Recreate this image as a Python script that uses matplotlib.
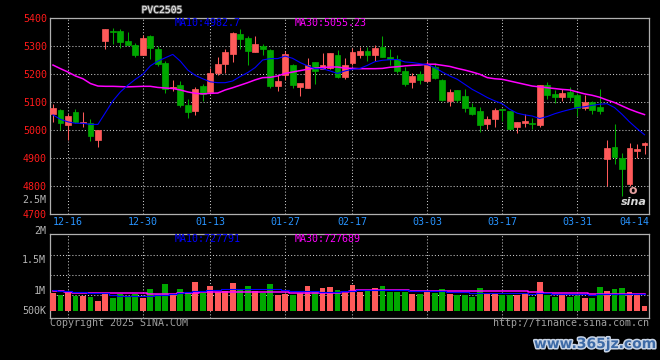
import matplotlib
matplotlib.use("Agg")
import matplotlib.pyplot as plt
import matplotlib.patheffects as pe

############################### DATA #####################################
# Values (one entry per trading day)
title = "PVC2505"

opens = [5056, 5072, 5018, 5064, 5024, 5026, 4964, 5318, 5352, 5354,
         5318, 5302, 5268, 5336, 5291, 5238, 5150, 5160, 5088, 5068,
         5157, 5134, 5205, 5235, 5273, 5342, 5329, 5280, 5300, 5286,
         5157, 5198, 5231, 5155, 5151, 5243, 5219, 5223, 5267, 5191,
         5241, 5268, 5282, 5268, 5296, 5261, 5255, 5211, 5170, 5199,
         5175, 5226, 5179, 5104, 5143, 5122, 5082, 5068, 5023, 5041,
         5074, 5068, 5009, 5026, 5026, 5017, 5160, 5130, 5118, 5137,
         5124, 5080, 5100, 5083, 4898, 4940, 4901, 4806, 4925, 4945]
highs = [5092, 5074, 5056, 5074, 5064, 5038, 5000, 5362, 5364, 5360,
         5350, 5312, 5338, 5339, 5300, 5246, 5179, 5174, 5112, 5155,
         5163, 5223, 5259, 5288, 5350, 5360, 5335, 5336, 5306, 5288,
         5195, 5283, 5237, 5169, 5258, 5243, 5276, 5276, 5286, 5258,
         5294, 5298, 5298, 5302, 5336, 5291, 5267, 5226, 5202, 5211,
         5246, 5240, 5181, 5148, 5143, 5145, 5098, 5083, 5050, 5078,
         5076, 5068, 5029, 5056, 5044, 5160, 5171, 5143, 5148, 5155,
         5131, 5124, 5104, 5145, 4964, 5020, 4919, 4955, 4949, 4957]
lows = [5029, 5000, 4964, 5024, 5012, 4961, 4941, 5288, 5307, 5294,
        5302, 5262, 5268, 5255, 5229, 5133, 5139, 5083, 5044, 5054,
        5104, 5128, 5195, 5205, 5244, 5291, 5231, 5277, 5267, 5151,
        5140, 5177, 5151, 5122, 5151, 5163, 5217, 5217, 5184, 5181,
        5231, 5258, 5246, 5246, 5262, 5231, 5205, 5157, 5150, 5163,
        5171, 5183, 5104, 5086, 5100, 5064, 5053, 4994, 5005, 5012,
        5032, 5003, 4991, 5012, 5003, 5012, 5112, 5098, 5104, 5104,
        5050, 5072, 5056, 5056, 4800, 4878, 4765, 4800, 4901, 4913]
closes = [5077, 5024, 5050, 5029, 5029, 4979, 5000, 5362, 5350, 5316,
          5302, 5268, 5329, 5294, 5237, 5148, 5152, 5088, 5066, 5148,
          5127, 5205, 5235, 5279, 5348, 5326, 5282, 5306, 5288, 5157,
          5175, 5270, 5162, 5167, 5231, 5211, 5231, 5276, 5191, 5231,
          5279, 5282, 5268, 5293, 5262, 5252, 5211, 5163, 5193, 5179,
          5231, 5187, 5107, 5136, 5107, 5080, 5058, 5019, 5041, 5072,
          5071, 5005, 5029, 5032, 5020, 5160, 5125, 5118, 5133, 5119,
          5078, 5100, 5072, 5068, 4934, 4905, 4862, 4937, 4933, 4952]

ma10 = [5054, 5038, 5029, 5024, 5024, 5020, 5020, 5062, 5104, 5136,
        5160, 5181, 5199, 5229, 5246, 5258, 5270, 5246, 5214, 5195,
        5183, 5172, 5169, 5169, 5175, 5191, 5205, 5223, 5250, 5255,
        5255, 5264, 5256, 5241, 5229, 5219, 5219, 5211, 5202, 5211,
        5217, 5220, 5231, 5244, 5249, 5251, 5252, 5243, 5241, 5237,
        5233, 5223, 5207, 5193, 5181, 5163, 5145, 5131, 5116, 5104,
        5094, 5074, 5060, 5054, 5050, 5041, 5048, 5058, 5066, 5073,
        5080, 5083, 5088, 5092, 5094, 5080, 5056, 5029, 5005, 4983]
ma30 = [5232, 5219, 5207, 5193, 5183, 5166, 5157, 5156, 5156, 5155,
        5154, 5155, 5156, 5156, 5152, 5150, 5148, 5143, 5136, 5131,
        5129, 5131, 5132, 5143, 5151, 5160, 5169, 5179, 5187, 5188,
        5193, 5202, 5207, 5212, 5217, 5221, 5223, 5225, 5225, 5221,
        5220, 5219, 5219, 5219, 5220, 5224, 5226, 5229, 5231, 5232,
        5235, 5235, 5231, 5227, 5220, 5214, 5207, 5199, 5187, 5183,
        5181, 5175, 5169, 5163, 5157, 5154, 5151, 5148, 5145, 5143,
        5136, 5129, 5124, 5117, 5107, 5098, 5086, 5074, 5064, 5055]

volumes = [785000, 685000, 828000, 656000, 642000, 585000, 428000, 714000, 571000, 742000,
           585000, 728000, 571000, 942000, 742000, 1156000, 742000, 942000, 813000, 1241000,
           785000, 1070000, 813000, 842000, 1199000, 928000, 1070000, 856000, 785000, 1156000,
           699000, 728000, 671000, 785000, 1070000, 856000, 985000, 1027000, 899000, 785000,
           1113000, 813000, 870000, 985000, 1070000, 813000, 813000, 813000, 728000, 728000,
           870000, 756000, 942000, 728000, 671000, 699000, 599000, 985000, 728000, 785000,
           699000, 671000, 699000, 728000, 614000, 1241000, 699000, 614000, 671000, 614000,
           642000, 571000, 571000, 1027000, 856000, 942000, 985000, 813000, 671000, 214000]
vol_ma10 = [885000, 870000, 842000, 813000, 813000, 785000, 771000, 771000, 671000, 642000,
            628000, 628000, 642000, 642000, 671000, 699000, 728000, 756000, 813000, 842000,
            870000, 899000, 913000, 928000, 942000, 942000, 942000, 942000, 942000, 942000,
            928000, 913000, 870000, 856000, 842000, 842000, 828000, 813000, 813000, 842000,
            870000, 885000, 885000, 885000, 885000, 885000, 885000, 885000, 870000, 856000,
            842000, 842000, 842000, 813000, 813000, 799000, 785000, 785000, 785000, 785000,
            785000, 771000, 771000, 756000, 742000, 756000, 756000, 742000, 742000, 742000,
            728000, 714000, 699000, 714000, 728000, 742000, 742000, 742000, 742000, 728000]
vol_ma30 = [842000, 842000, 813000, 785000, 785000, 785000, 785000, 785000, 785000, 785000,
            785000, 785000, 785000, 742000, 728000, 728000, 742000, 756000, 771000, 785000,
            799000, 813000, 813000, 813000, 813000, 813000, 813000, 813000, 813000, 813000,
            813000, 799000, 785000, 785000, 785000, 785000, 785000, 785000, 785000, 813000,
            870000, 885000, 885000, 885000, 885000, 885000, 885000, 885000, 870000, 856000,
            842000, 842000, 842000, 842000, 842000, 842000, 842000, 842000, 842000, 842000,
            842000, 842000, 842000, 842000, 813000, 799000, 785000, 785000, 785000, 785000,
            771000, 756000, 742000, 728000, 728000, 728000, 714000, 714000, 714000, 728000]

date_labels = ["12-16", "12-30", "01-13", "01-27", "02-17", "03-03", "03-17", "03-31"]
date_index = [2, 12, 21, 31, 40, 50, 60, 70]
last_date = "04-14"
price_ticks = [4700, 4800, 4900, 5000, 5100, 5200, 5300, 5400]
vol_labels = ["2.5M", "2M", "1.5M", "1M", "500K"]
price_ma_text = ["MA10:4982.7", "MA30:5055.23"]
vol_ma_text = ["MA10:727791", "MA30:727689"]

############################### STYLE #####################################
W, H = 660, 360
RED = "#ff5a5a"
GREEN = "#00a800"
GRID = "#c8c8c8"
FRAME = "#b0b0b0"
MONO = "DejaVu Sans Mono"
FS = 7.2
dotted = (0, (1, 2))

def fx(px):
    return px / W

def fy(py):
    return 1 - py / H

fig = plt.figure(figsize=(6.6, 3.6), dpi=100, facecolor="black")
ax = fig.add_axes([fx(50), fy(214), fx(599), 196 / H], facecolor="black")
axv = fig.add_axes([fx(50), fy(318), fx(599), 84 / H], facecolor="black")

x = list(range(len(closes)))
colors = [RED if c >= o else GREEN for o, c in zip(opens, closes)]
bottoms = [min(o, c) for o, c in zip(opens, closes)]
heights = [abs(c - o) for o, c in zip(opens, closes)]

############################### PRICE PANEL ###############################
ax.vlines(x, lows, highs, colors=colors, linewidth=0.75, zorder=2)
ax.bar(x, heights, bottom=bottoms, width=0.78, color=colors, edgecolor=colors,
       linewidth=0.5, zorder=3)
ax.plot(x, ma30, color="#ff00ff", linewidth=1.1, zorder=4)
ax.plot(x, ma10, color="#0000ff", linewidth=0.8, zorder=5)

ax.set_xlim(-0.4, 79.6)
ax.set_ylim(4700, 5400)
ax.set_yticks(price_ticks)
ax.set_yticklabels([str(t) for t in price_ticks], family=MONO, fontsize=FS, color="#ff1a1a")
ax.set_xticks(date_index)
ax.set_xticklabels(date_labels, family=MONO, fontsize=FS, color="#2894ff")
ax.tick_params(length=0, pad=2.2)
ax.grid(True, color=GRID, linestyle=dotted, linewidth=0.75)
ax.set_axisbelow(True)
ax.text(1.0, -0.015, last_date, transform=ax.transAxes, ha="right", va="top",
        family=MONO, fontsize=FS, color="#2894ff")

############################### VOLUME PANEL ##############################
axv.bar(x, volumes, width=0.78, color=colors, linewidth=0, zorder=3)
axv.plot(x, vol_ma30, color="#ff00ff", linewidth=1.1, drawstyle="steps-mid", zorder=4)
axv.plot(x, vol_ma10, color="#0000ff", linewidth=0.8, drawstyle="steps-mid", zorder=5)
axv.set_xlim(-0.4, 79.6)
axv.set_ylim(-300000, 3296000)
# grid rows of the original volume box (its labels do not sit on them)
axv.set_yticks([685000, 1541000, 2397000])
axv.set_yticklabels([])
axv.set_xticks(date_index)
axv.set_xticklabels([])
axv.tick_params(length=0)
axv.grid(True, color=GRID, linestyle=dotted, linewidth=0.75)
axv.set_axisbelow(True)

for a in (ax, axv):
    for s in a.spines.values():
        s.set_color(FRAME)
        s.set_linewidth(0.9)

############################### TEXTS #####################################
for lab, py in zip(vol_labels, [200, 231, 260, 291, 311]):
    fig.text(fx(46), fy(py), lab, ha="right", va="center", family=MONO,
             fontsize=FS, color="#b4b4b4")

fig.text(fx(175), fy(23), price_ma_text[0], va="center", family=MONO, fontsize=FS, color="#0000ff")
fig.text(fx(295), fy(23), price_ma_text[1], va="center", family=MONO, fontsize=FS, color="#ff00ff")
fig.text(fx(175), fy(239), vol_ma_text[0], va="center", family=MONO, fontsize=FS, color="#0000ff")
fig.text(fx(295), fy(239), vol_ma_text[1], va="center", family=MONO, fontsize=FS, color="#ff00ff")

fig.text(fx(162), fy(10), title, ha="center", va="center", family=MONO, fontsize=7,
         color="#f0f0f0", path_effects=[pe.withStroke(linewidth=1.2, foreground="#606060")])

fig.text(fx(50), fy(323), "Copyright 2025 SINA.COM", va="center", family=MONO,
         fontsize=FS, color="#a0a0a0")
fig.text(fx(649), fy(323), "http://finance.sina.com.cn", ha="right", va="center",
         family=MONO, fontsize=FS, color="#a0a0a0")

# sina logo watermark inside the price panel
fig.text(fx(633), fy(190), "o", ha="center", va="center", fontsize=9, weight="bold",
         color="#ffb0b0", alpha=0.9)
fig.text(fx(634), fy(202), "sina", ha="center", va="center", fontsize=8, weight="bold",
         style="italic", color="#d8d8d8")

# site watermark
fig.text(fx(595), fy(344), "www.365jz.com", ha="center", va="center", fontsize=10,
         weight="bold", color="#3d6aa6",
         path_effects=[pe.withStroke(linewidth=2.2, foreground="#c8d4e6")])

fig.savefig("out.png", dpi=100, facecolor="black")
